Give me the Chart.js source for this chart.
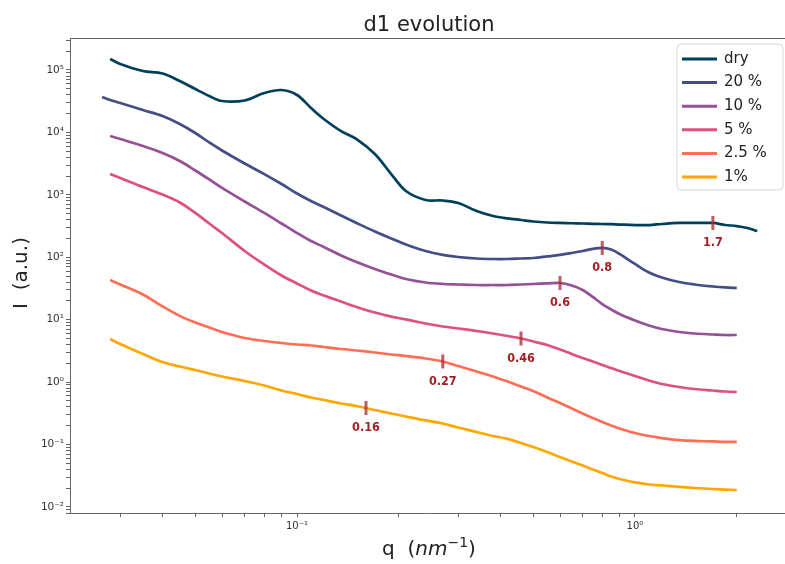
<!DOCTYPE html>
<html lang="en">
<head>
  <meta charset="UTF-8">
  <title>d1 evolution</title>
  <script src="https://cdn.jsdelivr.net/npm/chart.js"></script>
  <style>
    html, body { margin: 0; padding: 0; background: #fff; overflow: hidden; }
    #wrap { width: 820px; height: 564px; }
  </style>
</head>
<body>
  <div id="wrap"><canvas id="saxs-chart" width="798" height="564"></canvas></div>
  <script>
    // scattering vector q (nm^-1), shared by all curves
    const q = [0.0265, 0.028, 0.03, 0.035, 0.04, 0.045, 0.05, 0.055, 0.06, 0.07, 0.08, 0.09,
      0.1, 0.11, 0.12, 0.135, 0.15, 0.17, 0.19, 0.21, 0.24, 0.27, 0.3, 0.34, 0.38, 0.42, 0.46,
      0.5, 0.55, 0.6, 0.65, 0.7, 0.75, 0.8, 0.85, 0.9, 1.0, 1.1, 1.2, 1.35, 1.5, 1.7, 1.85, 2.0, 2.15, 2.3];

    const dry = [null, 1.50e5, 1.245e5, 9.62e4, 8.77e4, 6.65e4, 4.95e4, 3.83e4, 3.18e4, 3.24e4, 4.27e4, 4.77e4,
      3.97e4, 2.46e4, 1.64e4, 1.05e4, 7830, 4510, 2150, 1150, 826, 811, 739, 550, 458, 418, 395,
      374, 360, 354, 350, 347, 343, 341, 338, 334, 328, 328, 341, 354, 354, 354, 328, 316, 294, 263];
    const w20 = [3.69e4, 3.30e4, 2.96e4, 2.28e4, 1.83e4, 1.36e4, 9770, 6890, 5130, 3170, 2150, 1490,
      1050, 796, 638, 466, 354, 258, 200, 160, 126, 109, 101, 95.5, 93.7, 93.7, 95.5,
      97.2, 103, 109, 117, 126, 136, 141, 133, 113, 78, 57, 47.4, 40.1, 36.6, 34.0, 32.8, 32.2, null, null];
    const w10 = [null, 8750, 7830, 6050, 4670, 3480, 2450, 1760, 1290, 782, 512, 347,
      244, 182, 146, 107, 83.9, 64.8, 52.9, 44.8, 39.4, 37.3, 36.6, 35.9, 35.9, 35.9, 36.6,
      37.3, 38.0, 38.7, 35.3, 29.9, 23.1, 17.8, 14.6, 12.3, 9.70, 8.07, 7.09, 6.35, 6.00, 5.79, 5.68, 5.68, null, null];
    const w5 = [null, 2150, 1860, 1330, 1010, 753, 512, 347, 244, 126, 76.5, 51.0,
      38.0, 29.3, 24.4, 19.5, 16.0, 13.0, 11.2, 10.1, 8.68, 7.78, 7.22, 6.59, 6.00, 5.47, 4.99,
      4.47, 3.93, 3.33, 2.82, 2.43, 2.14, 1.88, 1.68, 1.51, 1.25, 1.06, 0.932, 0.835, 0.775, 0.733, 0.707, 0.694, null, null];
    const w25 = [null, 43.2, 36.6, 25.3, 16.3, 11.5, 9.01, 7.49, 6.35, 5.09, 4.55, 4.23,
      4.00, 3.86, 3.65, 3.39, 3.21, 2.98, 2.77, 2.62, 2.39, 2.14, 1.81, 1.48, 1.23, 1.02, 0.850,
      0.720, 0.567, 0.462, 0.378, 0.314, 0.266, 0.230, 0.202, 0.181, 0.153, 0.137, 0.127, 0.118, 0.114, 0.112, 0.110, 0.110, null, null];
    const w1 = [null, 4.90, 4.08, 2.82, 2.10, 1.78, 1.56, 1.37, 1.23, 1.04, 0.882, 0.733,
      0.645, 0.567, 0.517, 0.454, 0.414, 0.357, 0.314, 0.281, 0.243, 0.217, 0.187, 0.159, 0.137, 0.123, 0.106,
      0.0913, 0.0759, 0.0631, 0.0535, 0.0461, 0.0398, 0.0350, 0.0308, 0.0281, 0.0247, 0.0229, 0.0221, 0.0209, 0.0201, 0.0194, 0.0190, 0.0187, null, null];

    const seriesNames = ['dry', '20 %', '10 %', '5 %', '2.5 %', '1%'];
    const seriesColors = ['#003f5c', '#444e86', '#955196', '#dd5182', '#ff6e54', '#ffa600'];

    // correlation peak positions marked on each curve
    const peakQ = [1.7, 0.8, 0.6, 0.46, 0.27, 0.16];
    const peakI = [354, 141, 38.7, 4.99, 2.14, 0.385];

    // axis ranges and decade labels
    const qMin = 0.0213, qMax = 2.836;
    const iMin = 0.0080, iMax = 3.25e5;
    const qMajor = [0.1, 1];
    const iMajor = [1e-2, 1e-1, 1, 10, 100, 1e3, 1e4, 1e5];

    const titleText = 'd1 evolution';
    const font = '"DejaVu Sans", sans-serif';
    const plotRight = 788;

    const pts = (xs, ys) => xs.map((x, i) => ({ x, y: ys[i] }));

    // 1..9 x 10^n ticks inside the range
    function logTicks(min, max) {
      const out = [];
      for (let d = Math.floor(Math.log10(min)); d <= Math.floor(Math.log10(max)); d++) {
        for (let k = 1; k <= 9; k++) {
          const v = k * Math.pow(10, d);
          if (v >= min && v <= max) out.push({ value: v });
        }
      }
      return out;
    }

    const sup = { '-': '\u207b', '0': '\u2070', '1': '\u00b9', '2': '\u00b2', '3': '\u00b3',
      '4': '\u2074', '5': '\u2075', '6': '\u2076', '7': '\u2077', '8': '\u2078', '9': '\u2079' };
    function decadeLabel(majors) {
      return v => {
        if (!majors.some(m => Math.abs(m - v) / m < 1e-6)) return '';
        const e = String(Math.round(Math.log10(v)));
        return '10' + e.split('').map(c => sup[c]).join('');
      };
    }

    const curves = [dry, w20, w10, w5, w25, w1].map((ys, i) => ({
      label: seriesNames[i],
      data: pts(q, ys),
      borderColor: seriesColors[i],
      borderWidth: 2.7,
      pointRadius: 0,
      tension: 0.35,
      fill: false,
      order: 1
    }));

    const peaks = {
      label: 'peaks',
      data: pts(peakQ, peakI),
      showLine: false,
      pointStyle: 'line',
      rotation: 90,
      pointRadius: 7,
      pointBorderWidth: 3,
      pointBorderColor: 'rgba(168, 48, 52, 0.78)',
      pointBackgroundColor: 'rgba(168, 48, 52, 0.78)',
      order: 0
    };

    const decorations = {
      id: 'decorations',
      afterDatasetsDraw(chart) {
        const { ctx, chartArea: a } = chart;
        ctx.save();

        // top spine
        ctx.strokeStyle = '#666';
        ctx.lineWidth = 1;
        ctx.beginPath();
        ctx.moveTo(a.left, a.top + 0.5);
        ctx.lineTo(a.right, a.top + 0.5);
        ctx.stroke();

        // peak labels under each marker
        const meta = chart.getDatasetMeta(0);
        ctx.fillStyle = '#a11f24';
        ctx.font = 'bold 12.5px "DejaVu Sans Condensed", "DejaVu Sans", sans-serif';
        ctx.textAlign = 'center';
        ctx.textBaseline = 'middle';
        meta.data.forEach((pt, i) => ctx.fillText(String(peakQ[i]), pt.x, pt.y + 20));

        // title, centred over the plot area
        const cx = (a.left + a.right) / 2;
        ctx.fillStyle = '#222';
        ctx.font = '21px ' + font;
        ctx.textBaseline = 'alphabetic';
        ctx.fillText(titleText, cx, 31);

        // x axis title: q  (nm^-1)
        const parts = [
          { t: 'q  (', f: '20px ' + font, dy: 0 },
          { t: 'nm', f: 'italic 20px ' + font, dy: 0 },
          { t: '\u22121', f: '14px ' + font, dy: -8 },
          { t: ')', f: '20px ' + font, dy: 0 }
        ];
        let total = 0;
        parts.forEach(p => { ctx.font = p.f; p.w = ctx.measureText(p.t).width; total += p.w; });
        let x = cx - total / 2;
        ctx.textAlign = 'left';
        parts.forEach(p => { ctx.font = p.f; ctx.fillText(p.t, x, 555 + p.dy); x += p.w; });

        // y axis title
        ctx.save();
        ctx.translate(27, 273);
        ctx.rotate(-Math.PI / 2);
        ctx.textAlign = 'center';
        ctx.font = '20px ' + font;
        ctx.fillText('I  (a.u.)', 0, 0);
        ctx.restore();

        // legend box
        const lx = 677, ly = 44, lw = 106, lh = 146;
        ctx.beginPath();
        ctx.roundRect(lx, ly, lw, lh, 4);
        ctx.fillStyle = 'rgba(255,255,255,0.85)';
        ctx.fill();
        ctx.strokeStyle = '#d6d6d6';
        ctx.stroke();
        ctx.font = '15px ' + font;
        ctx.textBaseline = 'middle';
        seriesNames.forEach((name, i) => {
          const y = ly + 15 + i * 23.6;
          ctx.strokeStyle = seriesColors[i];
          ctx.lineWidth = 3;
          ctx.beginPath();
          ctx.moveTo(lx + 5, y);
          ctx.lineTo(lx + 40, y);
          ctx.stroke();
          ctx.fillStyle = '#222';
          ctx.fillText(name, lx + 47, y);
        });

        ctx.restore();
      }
    };

    const axisGrid = { drawOnChartArea: false, drawTicks: true, tickLength: 4, color: '#666' };

    const chart = new Chart(document.getElementById('saxs-chart'), {
      type: 'line',
      data: { datasets: [peaks, ...curves] },
      options: {
        responsive: false,
        animation: false,
        layout: { padding: { left: 0, top: 38, right: 0, bottom: 0 } },
        plugins: { legend: { display: false }, tooltip: { enabled: false }, title: { display: false } },
        scales: {
          x: {
            type: 'logarithmic',
            bounds: 'data',
            min: qMin,
            max: qMax,
            afterFit(s) { s.height = 51; s.paddingLeft = 0; s.paddingRight = 0; },
            afterBuildTicks(s) { s.ticks = logTicks(qMin, qMax); },
            ticks: {
              autoSkip: false, maxRotation: 0, minRotation: 0, padding: 3,
              color: '#333', font: { family: font, size: 10 },
              callback: decadeLabel(qMajor)
            },
            grid: axisGrid,
            border: { color: '#666' }
          },
          y: {
            type: 'logarithmic',
            bounds: 'data',
            min: iMin,
            max: iMax,
            afterFit(s) { s.width = 70; s.paddingTop = 0; s.paddingBottom = 0; },
            afterBuildTicks(s) { s.ticks = logTicks(iMin, iMax); },
            ticks: {
              autoSkip: false, padding: 2,
              color: '#333', font: { family: font, size: 10.5 },
              callback: decadeLabel(iMajor)
            },
            grid: axisGrid,
            border: { color: '#666' }
          }
        }
      },
      plugins: [decorations]
    });

    // the layout keeps room on the right for tick overhang; widen the canvas
    // (it runs past the window edge) until the plot's right spine sits at plotRight
    for (let pass = 0; pass < 4; pass++) {
      const gap = Math.round(plotRight - chart.chartArea.right);
      if (gap === 0) break;
      chart.resize(chart.width + gap, chart.height);
    }
  </script>
</body>
</html>
